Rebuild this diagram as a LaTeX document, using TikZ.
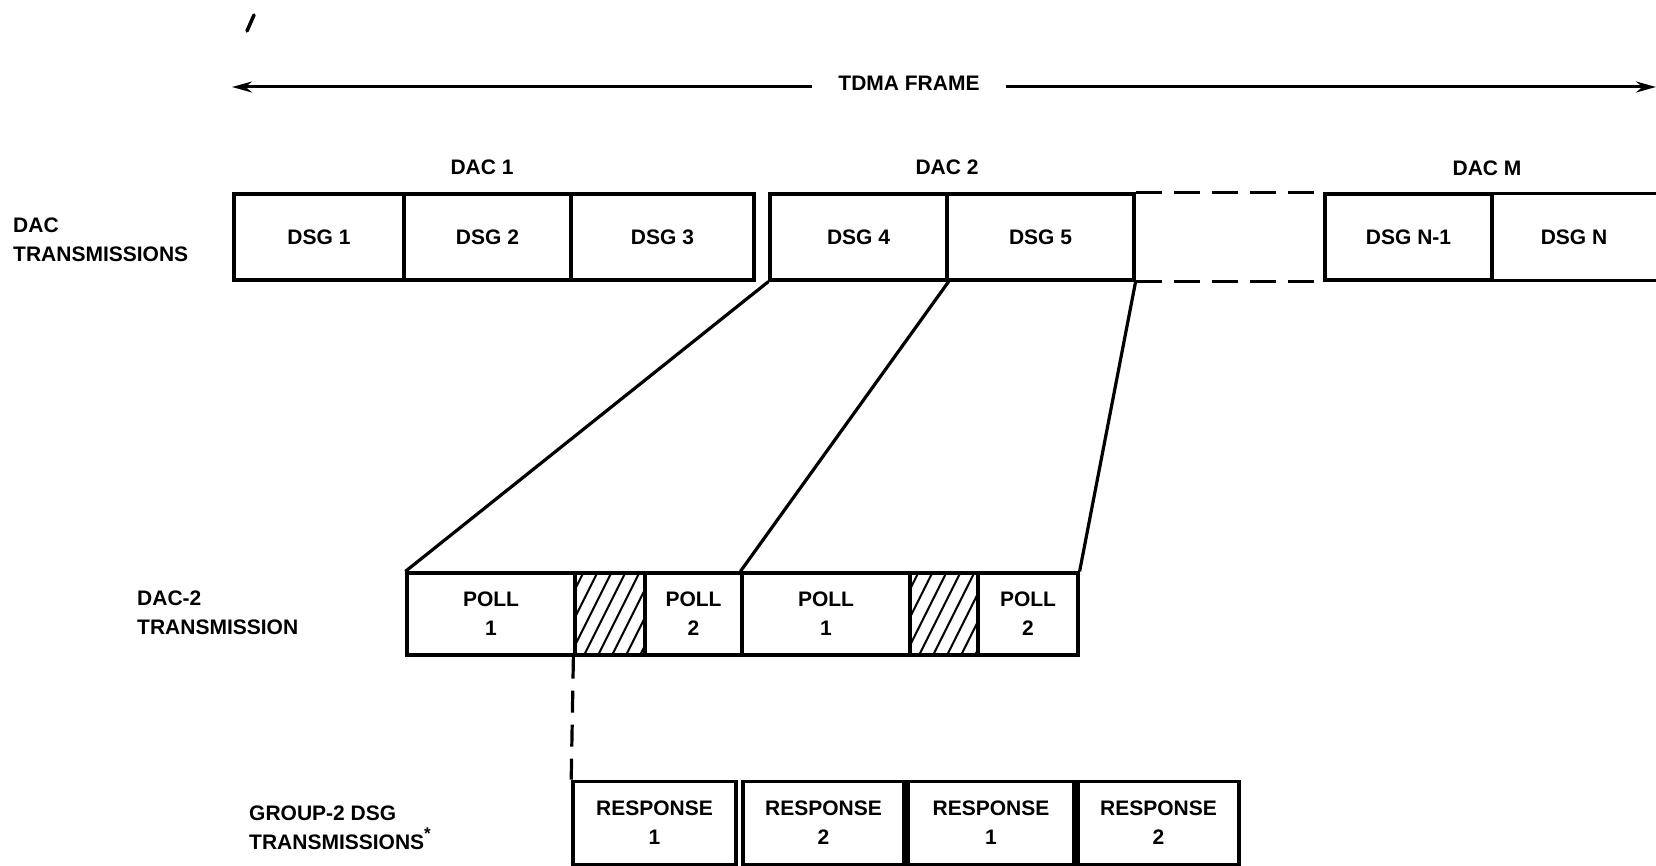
\documentclass[tikz,border=0pt]{standalone}
\usepackage{fontspec}
\setmainfont{Liberation Sans}
\usetikzlibrary{arrows.meta}
\begin{document}
\begin{tikzpicture}[x=1pt,y=-1pt,
  every node/.style={font=\bfseries\fontsize{21}{29}\selectfont, inner sep=0pt},
  seg/.style={draw, line width=3.2pt, minimum height=86pt, align=center},
  poll/.style={draw, line width=3.2pt, minimum height=82pt, align=center},
  resp/.style={draw, line width=3.6pt, minimum height=83pt, align=center},
  lbl/.style={align=left, anchor=west},
  conn/.style={line width=3.2pt},
  dashline/.style={line width=3.2pt, dash pattern=on 26pt off 12pt},
  hatchline/.style={line width=2pt},
  frame/.style={line width=3pt}
]
\useasboundingbox (0,0) rectangle (1656,866);

% stray tick mark at top
\coordinate (tk1) at (247,31);
\coordinate (tk2) at (254,15);
\draw[line width=3.5pt, line cap=round] (tk1) -- (tk2);

% TDMA frame arrow
\node (tdma) at (909,83) [inner xsep=26pt] {TDMA FRAME};
\coordinate (tl) at (232,87);
\coordinate (tr) at (1656,87);
\draw[frame, -{Stealth[length=20pt,width=11pt]}] (tdma.west |- tl) -- (tl);
\draw[frame, -{Stealth[length=20pt,width=11pt]}] (tdma.east |- tr) -- (tr);

% DAC labels
\node (dac1) at (482,167) {DAC 1};
\node (dac2) at (947,167) {DAC 2};
\node (dacm) at (1487,168) {DAC M};

% top row
\node[seg, minimum width=170pt] (dsg1) at (319,237) {DSG 1};
\node[seg, minimum width=167pt] (dsg2) at (487.5,237) {DSG 2};
\node[seg, minimum width=183pt] (dsg3) at (662.5,237) {DSG 3};
\node[seg, minimum width=177pt] (dsg4) at (858.5,237) {DSG 4};
\node[seg, minimum width=187pt] (dsg5) at (1040.5,237) {DSG 5};
\node[seg, minimum width=167pt] (dsgn1) at (1408.5,237) {DSG N-1};
\node[minimum width=164pt, minimum height=86pt] (dsgn) at (1574,237) {DSG N};
\draw[conn] ([xshift=10pt]dsgn.north east) -- (dsgn.north west) -- (dsgn.south west) -- ([xshift=10pt]dsgn.south east);

\draw[dashline] (dsg5.north east) -- (dsgn1.north west);
\draw[dashline] (dsg5.south east) -- (dsgn1.south west);

% row labels
\node[lbl] (l1) at (13,240) {DAC\\TRANSMISSIONS};
\node[lbl] (l2) at (137,613) {DAC-2\\TRANSMISSION};
\node[lbl] (l3) at (249,828) {GROUP-2 DSG\\TRANSMISSIONS\raisebox{0.9ex}{\fontsize{17}{17}\selectfont *}};

% poll row
\node[poll, minimum width=168pt] (p1a) at (491,614) {POLL\\1};
\node[poll, minimum width=70pt] (ha) at (610,614) {};
\node[poll, minimum width=97pt] (p2a) at (693.5,614) {POLL\\2};
\node[poll, minimum width=168pt] (p1b) at (826,614) {POLL\\1};
\node[poll, minimum width=68pt] (hb) at (944,614) {};
\node[poll, minimum width=100pt] (p2b) at (1028,614) {POLL\\2};

% hatching
\foreach \h in {ha,hb}{
  \begin{scope}
    \clip (\h.south west) rectangle (\h.north east);
    \foreach \k in {-46,-32,...,80}
      \draw[hatchline] ([xshift=\k pt]\h.south west) -- ++(41,-82);
  \end{scope}
}

% expansion lines
\draw[conn] (dsg4.south west) -- (p1a.north west);
\draw[conn] (dsg4.south east) -- (p1b.north west);
\draw[conn] (dsg5.south east) -- (p2b.north east);

% responses
\node[resp, minimum width=163pt] (r1) at (654.5,823) {RESPONSE\\1};
\node[resp, minimum width=161pt] (r2) at (823.5,823) {RESPONSE\\2};
\node[resp, minimum width=166pt] (r3) at (991,823) {RESPONSE\\1};
\node[resp, minimum width=161pt] (r4) at (1158.5,823) {RESPONSE\\2};

\draw[line width=3.2pt, dash pattern=on 22pt off 12pt] (ha.south west) -- (r1.north west);
\end{tikzpicture}
\end{document}
